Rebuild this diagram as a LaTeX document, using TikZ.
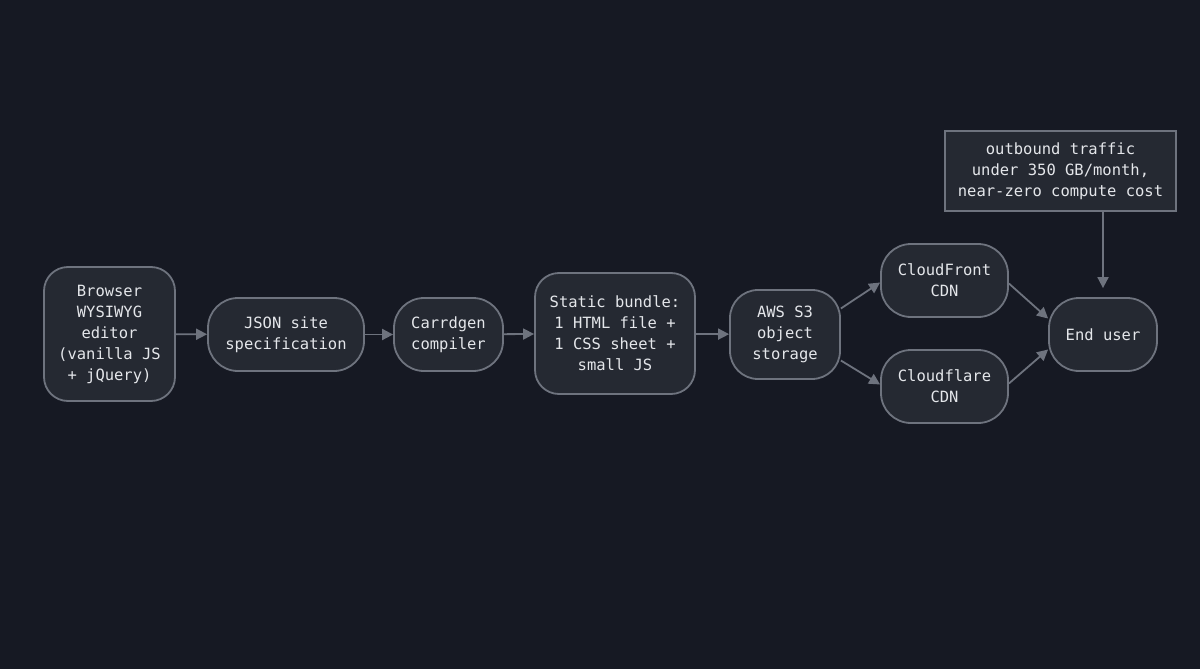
\documentclass[tikz,border=0pt]{standalone}
\usepackage{fontspec}
\setmonofont{DejaVu Sans Mono}
\usetikzlibrary{arrows.meta}
\definecolor{bgc}{HTML}{161923}
\definecolor{boxfill}{HTML}{252932}
\definecolor{boxline}{HTML}{6E737E}
\definecolor{txt}{HTML}{E4E6EA}
\tikzset{
  box/.style={draw=boxline, fill=boxfill, line width=1.8pt, rounded corners=26pt,
    inner sep=0pt, align=center, text=txt,
    font=\ttfamily\fontsize{15.5}{21}\selectfont},
  notebox/.style={draw=boxline, fill=boxfill, line width=1.8pt,
    inner sep=0pt, align=center, text=txt,
    font=\ttfamily\fontsize{15.5}{21}\selectfont},
  conn/.style={draw=boxline, line width=1.8pt, -{Triangle[length=11pt,width=11pt]}},
}
\begin{document}
\begin{tikzpicture}[x=1pt,y=-1pt]
\fill[bgc] (0,0) rectangle (1200,669);
\useasboundingbox (0,0) rectangle (1200,669);
\node[box, minimum width=131pt, minimum height=134pt, rounded corners=24pt] (browser) at (109.5,334) {Browser\\WYSIWYG\\editor\\(vanilla JS\\+ jQuery)};
\node[box, minimum width=156pt, minimum height=73pt, rounded corners=30pt] (json) at (286,334.5) {JSON site\\specification};
\node[box, minimum width=109pt, minimum height=73pt, rounded corners=30pt] (carr) at (448.5,334.5) {Carrdgen\\compiler};
\node[box, minimum width=160pt, minimum height=121pt, rounded corners=24pt] (bundle) at (615,333.5) {Static bundle:\\1 HTML file +\\1 CSS sheet +\\small JS};
\node[box, minimum width=110pt, minimum height=89pt, rounded corners=28pt] (s3) at (785,334.5) {AWS S3\\object\\storage};
\node[box, minimum width=127pt, minimum height=73pt, rounded corners=30pt] (cfront) at (944.5,280.5) {CloudFront\\CDN};
\node[box, minimum width=127pt, minimum height=73pt, rounded corners=30pt] (cflare) at (944.5,386.5) {Cloudflare\\CDN};
\node[box, minimum width=108pt, minimum height=73pt, rounded corners=30pt] (user) at (1103,334.5) {End user};
\node[notebox, minimum width=231pt, minimum height=80pt] (note) at (1060.5,171) {outbound traffic\\under 350 GB/month,\\near-zero compute cost};
\draw[conn] (browser) -- (json);
\draw[conn] (json) -- (carr);
\draw[conn] (carr) -- (bundle);
\draw[conn] (bundle) -- (s3);
\draw[conn] ([yshift=26pt]s3.east) -- ([yshift=-2pt]cfront.west);
\draw[conn] ([yshift=-26pt]s3.east) -- ([yshift=2pt]cflare.west);
\draw[conn] ([yshift=-3pt]cfront.east) -- ([yshift=16pt]user.west);
\draw[conn] ([yshift=3pt]cflare.east) -- ([yshift=-15pt]user.west);
\draw[conn] (note.south -| user.north) -- ([yshift=9pt]user.north);
\end{tikzpicture}
\end{document}
